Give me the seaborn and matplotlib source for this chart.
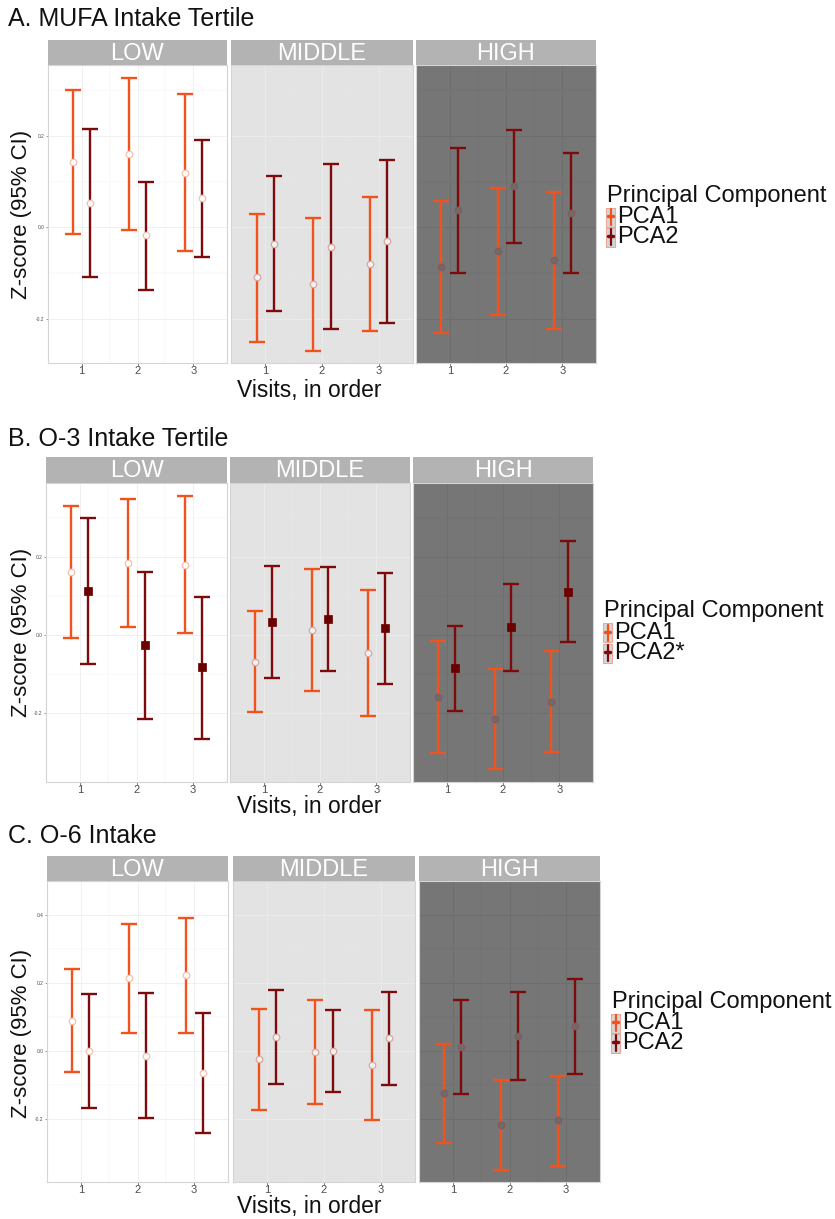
import numpy as np
import pandas as pd
import matplotlib
matplotlib.use("Agg")
import matplotlib.pyplot as plt
from matplotlib.patches import Rectangle
from matplotlib.lines import Line2D
import seaborn as sns

# ---------------- data ----------------
visits = [1, 2, 3]
tertiles = ["LOW", "MIDDLE", "HIGH"]

# Panel A: MUFA
a_pca1_est = [[0.142, 0.160, 0.118], [-0.109, -0.125, -0.081], [-0.087, -0.053, -0.072]]
a_pca1_lo = [[-0.015, -0.006, -0.052], [-0.250, -0.271, -0.228], [-0.232, -0.192, -0.222]]
a_pca1_hi = [[0.300, 0.326, 0.291], [0.029, 0.021, 0.066], [0.058, 0.085, 0.077]]
a_pca2_est = [[0.054, -0.018, 0.063], [-0.036, -0.043, -0.031], [0.038, 0.090, 0.031]]
a_pca2_lo = [[-0.108, -0.137, -0.066], [-0.183, -0.223, -0.210], [-0.099, -0.035, -0.101]]
a_pca2_hi = [[0.214, 0.099, 0.190], [0.112, 0.138, 0.148], [0.174, 0.213, 0.162]]

# Panel B: O-3
b_pca1_est = [[0.162, 0.185, 0.179], [-0.068, 0.012, -0.045], [-0.158, -0.214, -0.171]]
b_pca1_lo = [[-0.007, 0.021, 0.004], [-0.197, -0.144, -0.207], [-0.302, -0.342, -0.300]]
b_pca1_hi = [[0.330, 0.349, 0.356], [0.062, 0.169, 0.115], [-0.015, -0.088, -0.041]]
b_pca2_est = [[0.113, -0.026, -0.083], [0.033, 0.040, 0.018], [-0.085, 0.020, 0.110]]
b_pca2_lo = [[-0.074, -0.215, -0.265], [-0.110, -0.093, -0.126], [-0.194, -0.092, -0.019]]
b_pca2_hi = [[0.300, 0.162, 0.097], [0.177, 0.173, 0.160], [0.023, 0.131, 0.240]]

# Panel C: O-6
c_pca1_est = [[0.090, 0.215, 0.223], [-0.023, -0.003, -0.039], [-0.124, -0.217, -0.203]]
c_pca1_lo = [[-0.061, 0.053, 0.054], [-0.172, -0.156, -0.202], [-0.269, -0.349, -0.336]]
c_pca1_hi = [[0.242, 0.375, 0.392], [0.123, 0.151, 0.122], [0.021, -0.085, -0.072]]
c_pca2_est = [[0.000, -0.013, -0.065], [0.043, 0.001, 0.040], [0.013, 0.045, 0.073]]
c_pca2_lo = [[-0.168, -0.197, -0.239], [-0.095, -0.119, -0.098], [-0.125, -0.083, -0.068]]
c_pca2_hi = [[0.169, 0.172, 0.112], [0.181, 0.121, 0.175], [0.151, 0.173, 0.212]]

a_yticks = [-0.2, 0.0, 0.2]
b_yticks = [-0.2, 0.0, 0.2]
c_yticks = [-0.2, 0.0, 0.2, 0.4]

# ---------------- style ----------------
sns.set_theme(style="white")
plt.rcParams["font.family"] = ["Liberation Sans", "DejaVu Sans"]

W, H = 835, 1219
fig = plt.figure(figsize=(W / 100, H / 100), dpi=100)

C1 = "#F2531D"
C2 = "#7E0B0B"
BG = {"LOW": "#FFFFFF", "MIDDLE": "#E3E3E3", "HIGH": "#767676"}
GRID = {"LOW": "#F0F0F0", "MIDDLE": "#EBEBEB", "HIGH": "#6E6E6E"}
PFACE = {"LOW": "#FFFFFF", "MIDDLE": "#F2F2F2", "HIGH": "#6C6C6C"}
PEDGE = {"LOW": "#F6C0B0", "MIDDLE": "#D8A8A0", "HIGH": "#885A58"}


def fx(x):
    return x / W


def fy(y):
    return 1 - y / H


def add_ax(x0, y0, x1, y1):
    return fig.add_axes([x0 / W, 1 - y1 / H, (x1 - x0) / W, (y1 - y0) / H])


panels = [
    dict(title="A. MUFA Intake Tertile", ty=19,
         fx=[(48, 227), (231, 413), (416, 596)], st=40, sb=65, pb=363,
         ylim=(-0.297, 0.355), yticks=a_yticks,
         d1=(a_pca1_est, a_pca1_lo, a_pca1_hi), d2=(a_pca2_est, a_pca2_lo, a_pca2_hi),
         m2="o", leg=(607, 196, 217, 237), labs=("PCA1", "PCA2"), xl=391, yl=214),
    dict(title="B. O-3 Intake Tertile", ty=439,
         fx=[(46, 227), (230, 410), (413, 593)], st=457, sb=483, pb=782,
         ylim=(-0.376, 0.389), yticks=b_yticks,
         d1=(b_pca1_est, b_pca1_lo, b_pca1_hi), d2=(b_pca2_est, b_pca2_lo, b_pca2_hi),
         m2="s", leg=(604, 611, 633, 653), labs=("PCA1", "PCA2*"), xl=807, yl=632),
    dict(title="C. O-6 Intake", ty=836,
         fx=[(47, 228), (233, 415), (419, 600)], st=856, sb=881, pb=1182,
         ylim=(-0.384, 0.428), yticks=c_yticks,
         d1=(c_pca1_est, c_pca1_lo, c_pca1_hi), d2=(c_pca2_est, c_pca2_lo, c_pca2_hi),
         m2="o", leg=(612, 1002, 1023, 1043), labs=("PCA1", "PCA2"), xl=1206, yl=1033),
]

off = 0.15
for p in panels:
    fig.text(fx(8), fy(p["ty"]), p["title"], fontsize=18, ha="left", va="center", color="#111111")
    for k, tert in enumerate(tertiles):
        x0, x1 = p["fx"][k]
        ax = add_ax(x0, p["sb"], x1, p["pb"])
        ax.set_facecolor(BG[tert])
        ax.set_xlim(0.4, 3.6)
        ax.set_ylim(*p["ylim"])
        ax.set_xticks(visits)
        ax.set_xticks([1.5, 2.5], minor=True)
        yt = p["yticks"]
        ax.set_yticks(yt)
        ax.set_yticks([t + 0.1 for t in yt], minor=True)
        ax.grid(which="major", color=GRID[tert], lw=0.7)
        ax.grid(which="minor", color=GRID[tert], lw=0.35)
        ax.set_axisbelow(True)
        for s in ax.spines.values():
            s.set_color("#D4D4D4")
            s.set_linewidth(0.8)
        ax.tick_params(axis="x", which="major", labelsize=8, colors="#4D4D4D", length=2, pad=0.5,
                       bottom=True, width=0.5)
        ax.tick_params(axis="x", which="minor", length=0)
        ax.tick_params(axis="y", which="minor", length=0)
        if k == 0:
            ax.set_yticklabels([f"{t:.1f}" for t in yt])
            ax.tick_params(axis="y", which="major", labelsize=3.5, colors="#4D4D4D",
                           length=1.5, pad=1, left=True, width=0.4)
        else:
            ax.set_yticklabels([])
            ax.tick_params(axis="y", which="major", length=0)

        for (est, lo, hi), col, dx, mk in ((p["d1"], C1, -off, "o"), (p["d2"], C2, off, p["m2"])):
            e = np.array(est[k]); l = np.array(lo[k]); h = np.array(hi[k])
            xs = np.array(visits) + dx
            ax.errorbar(xs, e, yerr=[e - l, h - e], fmt="none", ecolor=col,
                        elinewidth=1.7, capsize=5.5, capthick=1.7, zorder=2)
            df = pd.DataFrame({"visit": xs, "z": e})
            if mk == "s":
                sns.scatterplot(data=df, x="visit", y="z", ax=ax, marker="s", s=26,
                                color="#6A0000", edgecolor="#6A0000", linewidth=0.5,
                                legend=False, zorder=3)
            else:
                sns.scatterplot(data=df, x="visit", y="z", ax=ax, marker="o", s=22,
                                color=PFACE[tert], edgecolor=PEDGE[tert], linewidth=0.9,
                                legend=False, zorder=3)
        ax.set_xlabel("")
        ax.set_ylabel("")

        sax = add_ax(x0, p["st"], x1, p["sb"])
        sax.set_facecolor("#B3B3B3")
        sax.set_xticks([]); sax.set_yticks([])
        for s in sax.spines.values():
            s.set_visible(False)
        sax.text(0.5, 0.45, tert, transform=sax.transAxes, ha="center", va="center",
                 color="white", fontsize=17)

    fig.text(fx(309), fy(p["xl"]), "Visits, in order", fontsize=16.5, ha="center", va="center",
             color="#111111")
    fig.text(fx(22), fy(p["yl"]), "Z-score (95% CI)", fontsize=16, ha="center", va="center",
             rotation=90, color="#111111")

    lx, lty, l1, l2 = p["leg"]
    fig.text(fx(lx), fy(lty), "Principal Component", fontsize=17, ha="left", va="center",
             color="#111111")
    for yy, lab, col in zip((l1, l2), p["labs"], (C1, C2)):
        fig.add_artist(Rectangle((fx(lx - 1), fy(yy + 9.5)), 9 / W, 19 / H,
                                 transform=fig.transFigure, facecolor="#D6D6D6",
                                 edgecolor="#E8A89C", lw=0.8))
        xc = lx + 3.5
        fig.add_artist(Line2D([fx(xc), fx(xc)], [fy(yy + 8), fy(yy - 8)],
                              transform=fig.transFigure, color=col, lw=1.6))
        fig.add_artist(Line2D([fx(xc - 2.5), fx(xc + 2.5)], [fy(yy - 1), fy(yy - 1)],
                              transform=fig.transFigure, color=col, lw=2.5))
        fig.text(fx(lx + 10), fy(yy), lab, fontsize=17, ha="left", va="center", color="#111111")

fig.savefig("out.png", dpi=100, facecolor="white")
